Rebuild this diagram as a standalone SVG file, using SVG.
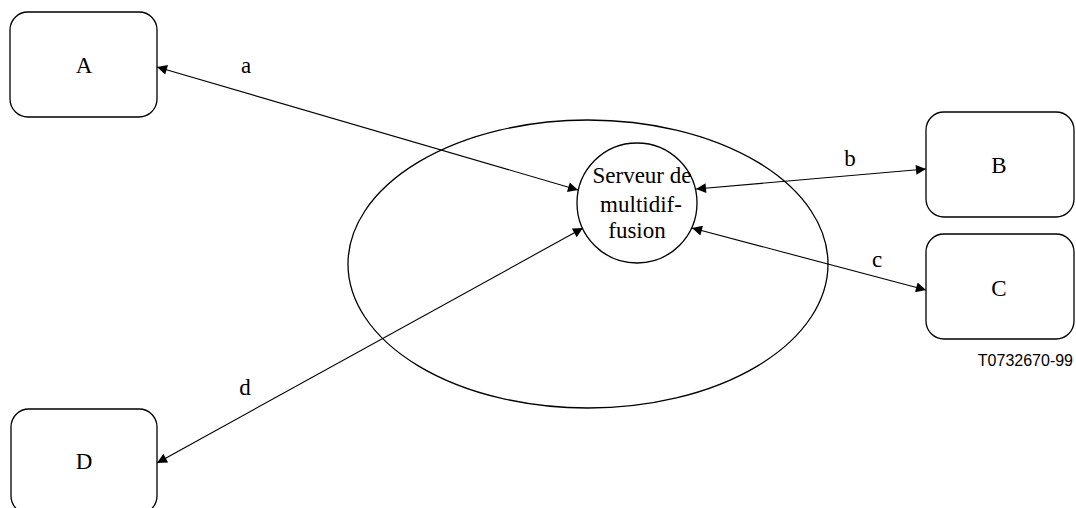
<svg xmlns="http://www.w3.org/2000/svg" width="1076" height="508" viewBox="0 0 1076 508">
<style>
.box{fill:#fff;stroke:#000;stroke-width:1.3}
.sh{fill:none;stroke:#000;stroke-width:1.3}
.t{font-family:"Liberation Serif",serif;font-size:23px;fill:#000;text-anchor:middle}
.c{fill:none;stroke:#000;stroke-width:1.1;marker-start:url(#ah);marker-end:url(#ah)}
.id{font-family:"Liberation Sans",sans-serif;font-size:16px;fill:#000;text-anchor:end}
</style>
<defs>
<marker id="ah" viewBox="0 0 10 10" refX="10" refY="5" markerWidth="14" markerHeight="10" markerUnits="userSpaceOnUse" orient="auto-start-reverse">
<path d="M0,0 L10,5 L0,10 z" fill="#000"/>
</marker>
</defs>
<rect width="1076" height="508" fill="#fff"/>
<g id="cloud"><ellipse class="sh" cx="588" cy="264" rx="240" ry="144"/></g>
<g id="connectors">
<line class="c" x1="157" y1="67" x2="578" y2="190"/>
<line class="c" x1="696" y1="189" x2="926" y2="169"/>
<line class="c" x1="692" y1="228" x2="926" y2="290"/>
<line class="c" x1="583" y1="228" x2="157" y2="463"/>
<text class="t" x="246" y="73">a</text>
<text class="t" x="850" y="166">b</text>
<text class="t" x="877" y="267">c</text>
<text class="t" x="245" y="395">d</text>
</g>
<g id="server"><circle class="box" cx="637" cy="203" r="60"/>
<text class="t" x="642" y="183">Serveur de</text>
<text class="t" x="641" y="212">multidif-</text>
<text class="t" x="637" y="238">fusion</text></g>
<g id="A"><rect class="box" x="10" y="12" width="147" height="105" rx="18"/><text class="t" x="84" y="73">A</text></g>
<g id="B"><rect class="box" x="926" y="112" width="148" height="105" rx="18"/><text class="t" x="999" y="173">B</text></g>
<g id="C"><rect class="box" x="926" y="234" width="148" height="105" rx="18"/><text class="t" x="999" y="296">C</text></g>
<g id="D"><rect class="box" x="11" y="409" width="146" height="105" rx="18"/><text class="t" x="84" y="469">D</text></g>
<text class="id" x="1073" y="366">T0732670-99</text>
</svg>
